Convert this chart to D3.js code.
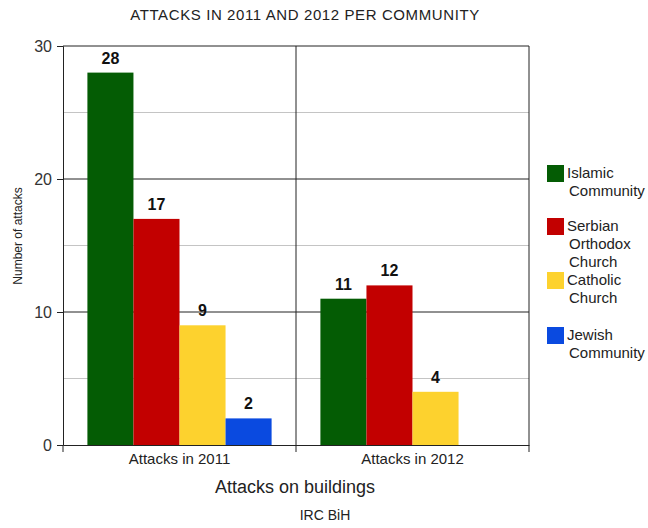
<!DOCTYPE html>
<html>
<head>
<meta charset="utf-8">
<script src="https://cdn.jsdelivr.net/npm/d3@7"></script>
<style>
  body { margin: 0; background: #fff; }
</style>
</head>
<body>
<svg id="chart" width="648" height="528" font-family="Arial, 'Liberation Sans', sans-serif"></svg>
<script>
// Attack counts per religious community, by year
const groups = ["Attacks in 2011", "Attacks in 2012"];
const series = ["Islamic Community", "Serbian Orthodox Church", "Catholic Church", "Jewish Community"];
const legendLines = [["Islamic", "Community"], ["Serbian", "Orthodox", "Church"], ["Catholic", "Church"], ["Jewish", "Community"]];
const colors = ["#045c04", "#c20000", "#fdd22e", "#0a4ae0"];
const values2011 = [28, 17, 9, 2];
const values2012 = [11, 12, 4, null];
const yTicks = [0, 10, 20, 30];
const yMinor = [5, 15, 25];

const valuesByGroup = [values2011, values2012];
const FONT = "Arial, 'Liberation Sans', sans-serif";

const svg = d3.select("#chart");
const plot = { left: 63, top: 46, right: 529, bottom: 445 };

const x0 = d3.scaleBand().domain(groups).range([plot.left, plot.right]).paddingInner(0).paddingOuter(0);
const x1 = d3.scaleBand().domain(series).range([0, x0.bandwidth()]).paddingInner(0).paddingOuter(0.53);
const y = d3.scaleLinear().domain([0, 30]).range([plot.bottom, plot.top]);

// minor gridlines
svg.append("g").selectAll("line").data(yMinor).join("line")
  .attr("x1", plot.left).attr("x2", plot.right)
  .attr("y1", d => y(d)).attr("y2", d => y(d))
  .attr("stroke", "#c4c4c4").attr("stroke-width", 1);

// major gridlines
svg.append("g").selectAll("line").data(yTicks.filter(d => d > 0 && d < 30)).join("line")
  .attr("x1", plot.left).attr("x2", plot.right)
  .attr("y1", d => y(d)).attr("y2", d => y(d))
  .attr("stroke", "#222").attr("stroke-width", 1);

// group dividers
svg.append("g").selectAll("line").data(groups.slice(1)).join("line")
  .attr("x1", d => x0(d)).attr("x2", d => x0(d))
  .attr("y1", plot.top).attr("y2", plot.bottom)
  .attr("stroke", "#222");

// bars
const rows = [];
groups.forEach((g, gi) => series.forEach((s, si) => {
  const v = valuesByGroup[gi][si];
  if (v != null) rows.push({ g, s, si, v });
}));

svg.append("g").selectAll("rect").data(rows).join("rect")
  .attr("x", d => x0(d.g) + x1(d.s))
  .attr("y", d => y(d.v))
  .attr("width", x1.bandwidth())
  .attr("height", d => y(0) - y(d.v))
  .attr("fill", d => colors[d.si]);

// value labels
svg.append("g").selectAll("text").data(rows).join("text")
  .attr("x", d => x0(d.g) + x1(d.s) + x1.bandwidth() / 2)
  .attr("y", d => y(d.v) - 9)
  .attr("text-anchor", "middle")
  .attr("font-size", 16).attr("font-weight", "bold").attr("fill", "#111")
  .text(d => d.v);

// plot frame: top and right
svg.append("path")
  .attr("d", `M${plot.left},${plot.top}H${plot.right}V${plot.bottom}`)
  .attr("fill", "none").attr("stroke", "#222");

// y axis
const yAxis = svg.append("g").attr("transform", `translate(${plot.left},0)`)
  .call(d3.axisLeft(y).tickValues(yTicks).tickSize(6).tickPadding(5));
yAxis.select(".domain").attr("stroke", "#222");
yAxis.selectAll(".tick line").attr("stroke", "#222");
yAxis.selectAll(".tick text").attr("font-size", 16).attr("fill", "#333")
  .attr("font-family", FONT);

// x axis
const xAxis = svg.append("g").attr("transform", `translate(0,${plot.bottom})`)
  .call(d3.axisBottom(x0).tickSize(0).tickPadding(8));
xAxis.select(".domain").attr("stroke", "#222");
xAxis.selectAll(".tick text").attr("font-size", 15).attr("fill", "#222")
  .attr("font-family", FONT);
svg.append("g").selectAll("line").data([plot.left, x0(groups[1]), plot.right]).join("line")
  .attr("x1", d => d).attr("x2", d => d)
  .attr("y1", plot.bottom).attr("y2", plot.bottom + 7)
  .attr("stroke", "#222");

// titles
svg.append("text").attr("x", 305).attr("y", 20).attr("text-anchor", "middle")
  .attr("font-size", 15).attr("letter-spacing", 0.6).attr("fill", "#222")
  .text("ATTACKS IN 2011 AND 2012 PER COMMUNITY");
svg.append("text").attr("transform", "translate(22,236) rotate(-90)").attr("text-anchor", "middle")
  .attr("font-size", 12).attr("fill", "#222").text("Number of attacks");
svg.append("text").attr("x", 295).attr("y", 493).attr("text-anchor", "middle")
  .attr("font-size", 18).attr("fill", "#222").text("Attacks on buildings");
svg.append("text").attr("x", 325).attr("y", 520).attr("text-anchor", "middle")
  .attr("font-size", 14).attr("fill", "#222").text("IRC BiH");

// legend
const legendTop = [165, 218, 272, 327];
const legend = svg.append("g").selectAll("g").data(series).join("g")
  .attr("transform", (d, i) => `translate(547,${legendTop[i]})`);
legend.append("rect").attr("width", 17).attr("height", 17).attr("fill", (d, i) => colors[i]);
legend.append("text").attr("font-size", 15).attr("fill", "#222")
  .selectAll("tspan").data((d, i) => legendLines[i]).join("tspan")
  .attr("x", (d, j) => j === 0 ? 20 : 22)
  .attr("y", (d, j) => 13 + j * 18)
  .text(d => d);
</script>
</body>
</html>
